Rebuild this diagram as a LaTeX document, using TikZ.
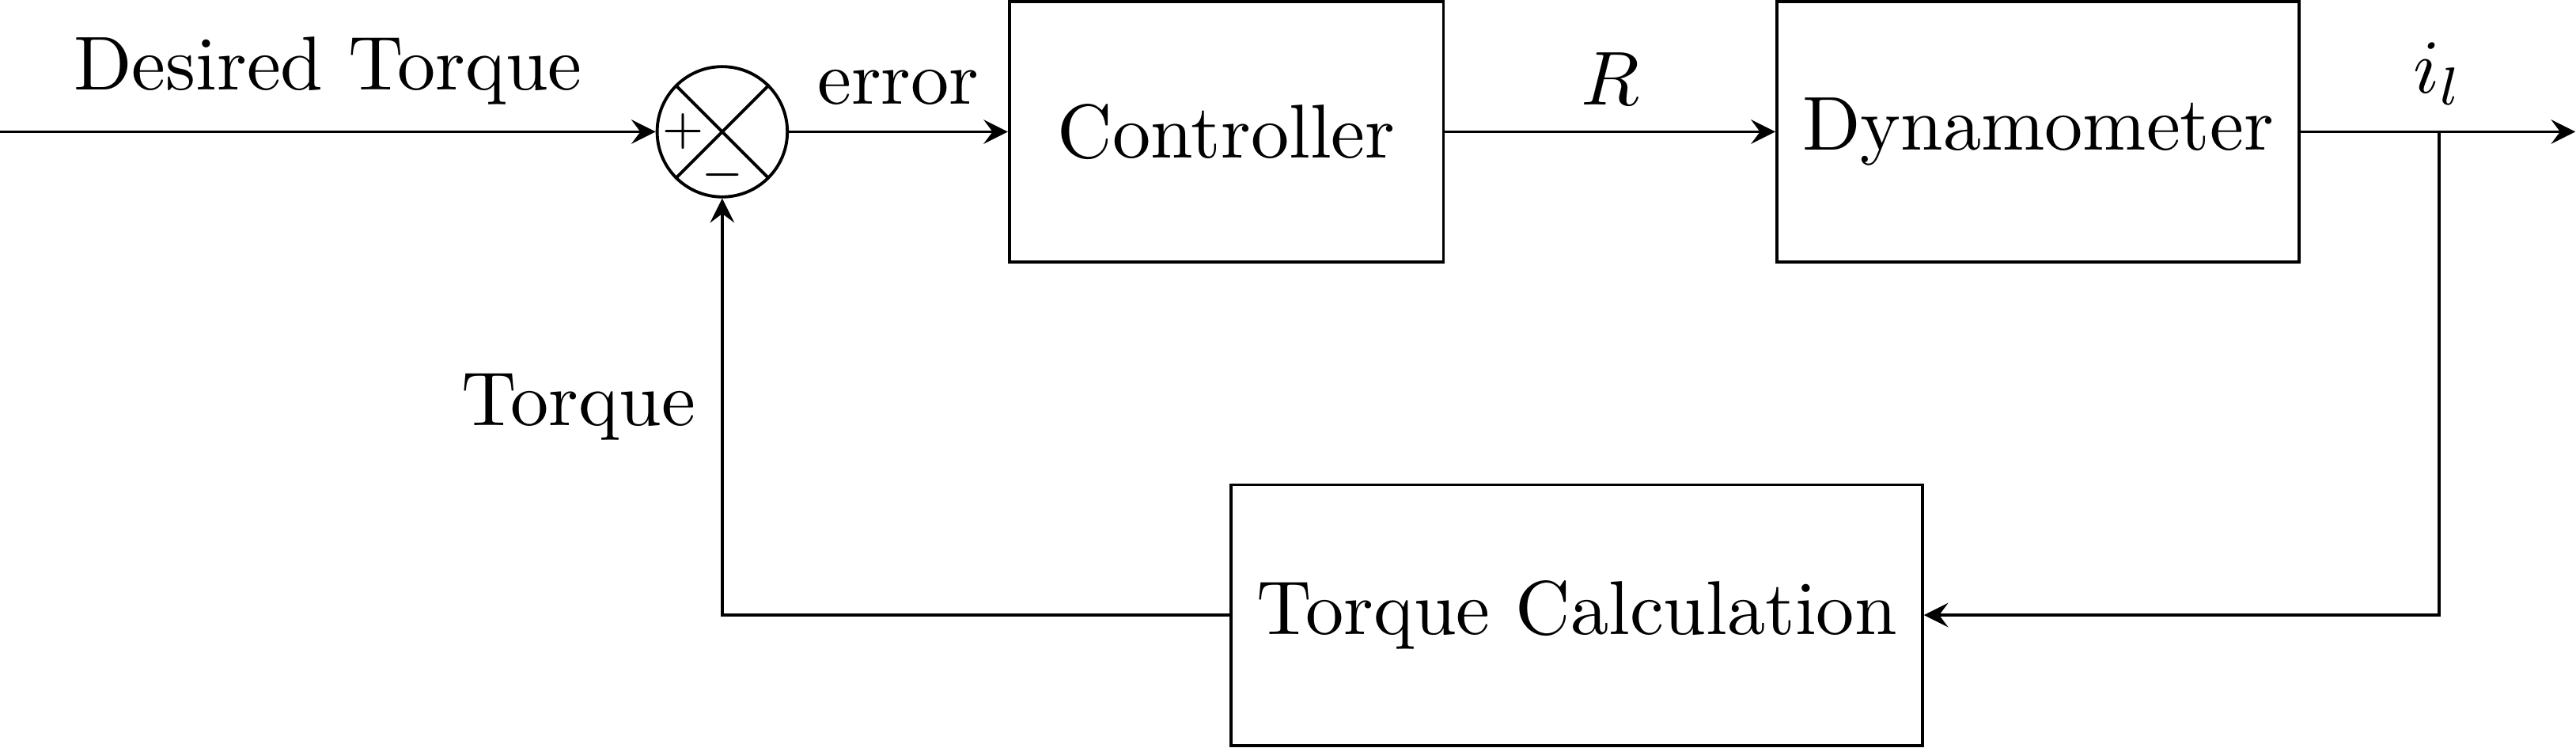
\documentclass[tikz,border=0pt]{standalone}
\begin{document}
\begin{tikzpicture}[>=stealth, block/.style={draw, minimum height=1.2cm, minimum width=2cm}, sign/.style={font=\fontsize{6.2}{7}\selectfont}]
        \useasboundingbox (0, 0) rectangle (11.87, -3.445);
        \node[draw, circle, minimum size=0.6cm] (sum) at (3.328, -0.607) {};
        \draw[] (sum.north west) -- (sum.south east);
        \draw[] (sum.north east) -- (sum.south west);
        \node[sign] (plus) at (3.148, -0.607) {$+$};
        \node[sign] (minus) at (3.328, -0.806) {$-$};
        \node[block] (ctrl) at (5.651, -0.607) {Controller};
        \node[block] (dyno) at (9.391, -0.607) {Dynamometer};
        \node[block] (calc) at (7.266, -2.833) {Torque Calculation};
        \coordinate (in) at (0, -0.607);
        \coordinate (branch) at (11.24, -0.607);
        \coordinate (out) at (11.867, -0.607);
        \draw[->] (in) -- node[above] {Desired Torque} (sum.west);
        \draw[->] (sum.east) -- node[above] {error} (ctrl.west);
        \draw[->] (ctrl.east) -- node[above] {$R$} (dyno.west);
        \draw[->] (dyno.east) -- node[above] {$i_l$} (out);
        \draw[->] (branch) |- (calc.east);
        \draw[->] (calc.west) -| node[pos=0.75, left] {Torque} (sum.south);
    \end{tikzpicture}
\end{document}
